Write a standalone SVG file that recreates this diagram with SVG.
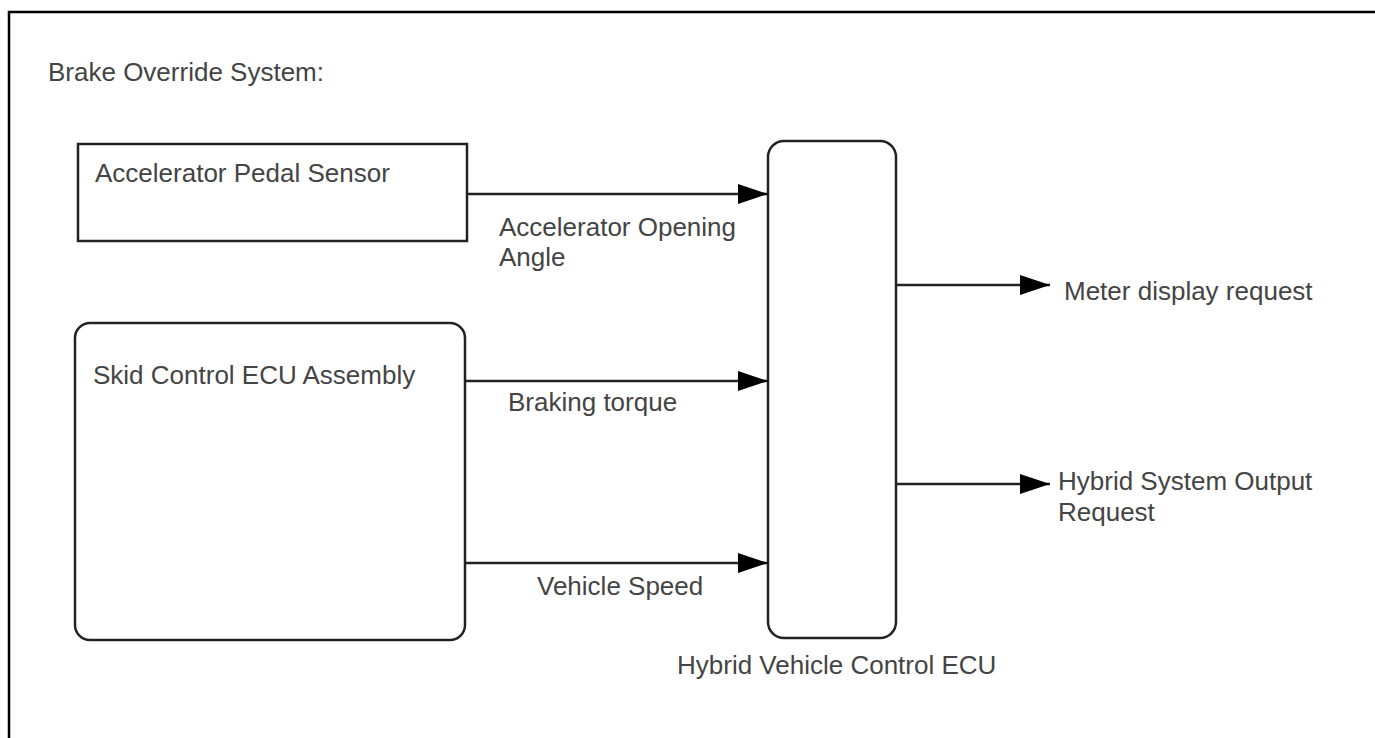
<svg xmlns="http://www.w3.org/2000/svg" width="1375" height="738" viewBox="0 0 1375 738">
<defs>
<marker id="arr" markerWidth="30" markerHeight="20" refX="30" refY="10" orient="auto" markerUnits="userSpaceOnUse">
<path d="M0,0 L30,10 L0,20 Z" fill="#000"/>
</marker>
<style>
.box{fill:#fff;stroke:#222;stroke-width:2.5}
.t{font-family:"Liberation Sans",Arial,sans-serif;font-size:26px;fill:#444}
.c{stroke:#222;stroke-width:2.5;fill:none;marker-end:url(#arr)}
</style>
</defs>
<rect x="0" y="0" width="1375" height="738" fill="#fff"/>
<rect x="9" y="12" width="1380" height="740" fill="none" stroke="#000" stroke-width="2.5"/>
<text class="t" x="48" y="81">Brake Override System:</text>
<g id="accel-pedal-sensor">
<rect class="box" x="78" y="144" width="389" height="97"/>
<text class="t" x="95" y="182">Accelerator Pedal Sensor</text>
</g>
<g id="skid-control-ecu">
<rect class="box" x="75" y="323" width="390" height="317" rx="15" ry="15"/>
<text class="t" x="93" y="384">Skid Control ECU Assembly</text>
</g>
<g id="hv-control-ecu">
<rect class="box" x="768" y="141" width="128" height="497" rx="16" ry="16"/>
<text class="t" x="677" y="674">Hybrid Vehicle Control ECU</text>
</g>
<g id="connectors">
<line class="c" x1="467" y1="194" x2="768" y2="194"/>
<line class="c" x1="465" y1="381" x2="768" y2="381"/>
<line class="c" x1="465" y1="563" x2="768" y2="563"/>
<line class="c" x1="896" y1="285" x2="1050" y2="285"/>
<line class="c" x1="896" y1="484" x2="1050" y2="484"/>
<text class="t" x="499" y="236">Accelerator Opening</text>
<text class="t" x="499" y="266">Angle</text>
<text class="t" x="508" y="411">Braking torque</text>
<text class="t" x="537" y="595">Vehicle Speed</text>
<text class="t" x="1064" y="300">Meter display request</text>
<text class="t" x="1058" y="490">Hybrid System Output</text>
<text class="t" x="1058" y="521">Request</text>
</g>
</svg>
